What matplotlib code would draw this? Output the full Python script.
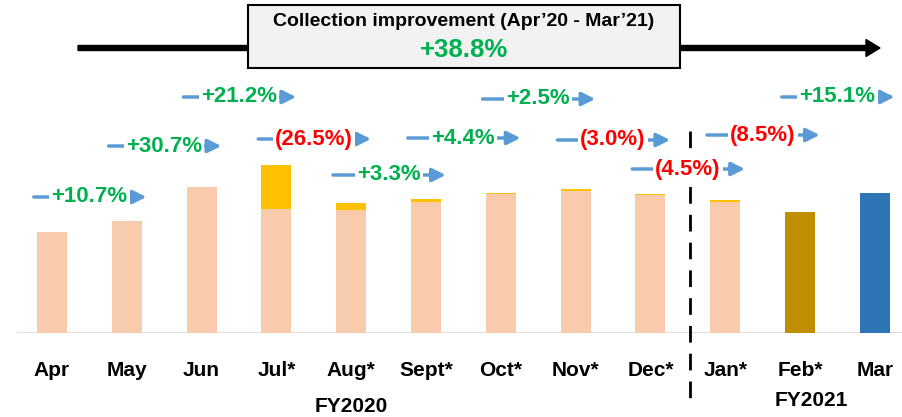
import numpy as np
import matplotlib.pyplot as plt
from matplotlib.patches import Rectangle, FancyArrow

plt.rcParams['font.family'] = ['Liberation Sans', 'DejaVu Sans']
plt.rcParams['font.weight'] = 'bold'

months = ['Apr', 'May', 'Jun', 'Jul*', 'Aug*', 'Sept*', 'Oct*', 'Nov*', 'Dec*', 'Jan*', 'Feb*', 'Mar']
base = [101, 112, 146, 124, 123, 131, 139, 142, 138, 131, 121, 140]
extra = [0, 0, 0, 44, 7, 3, 1.5, 2, 1.5, 2, 0, 0]
changes = ['+10.7%', '+30.7%', '+21.2%', '(26.5%)', '+3.3%', '+4.4%', '+2.5%', '(3.0%)', '(4.5%)', '(8.5%)', '+15.1%']
total_change = '+38.8%'

# layout for the change labels (height above baseline, px)
label_y = [136, 187, 236, 194, 158, 195, 234, 193, 164, 198, 236]

GREEN = '#00B050'
RED = '#FF0000'
BLUE = '#5B9BD5'

fig = plt.figure(figsize=(9.02, 4.17), dpi=100)
ax = fig.add_axes([0, 84 / 417, 1, 333 / 417])
x = np.arange(len(months))
ax.set_xlim(-52 / 74.8, (902 - 52) / 74.8)
ax.set_ylim(0, 333)

base_colors = ['#F8CBAD'] * 10 + ['#BF8F00', '#2E75B6']
ax.bar(x, base, width=0.4, color=base_colors, zorder=2)
ax.bar(x, extra, bottom=base, width=0.4, color='#FFC000', zorder=2)

for s in ax.spines.values():
    s.set_visible(False)
ax.axhline(0, xmin=18 / 902, xmax=1, color='#D9D9D9', lw=2, zorder=1)
ax.set_yticks([])
ax.set_xticks(x)
ax.set_xticklabels(months, fontsize=15, fontweight='bold')
ax.tick_params(axis='x', length=0, pad=20)

# month-on-month change labels with arrows
for i, (lab, yy) in enumerate(zip(changes, label_y)):
    xc = i + 0.5
    ax.annotate('', xy=(xc + 0.8, yy), xytext=(xc - 0.78, yy),
                arrowprops=dict(arrowstyle='-|>', color=BLUE, lw=2.5, mutation_scale=20),
                annotation_clip=False)
    col = RED if lab.startswith('(') else GREEN
    ax.text(xc, yy, lab, ha='center', va='center', fontsize=16, fontweight='bold', color=col,
            bbox=dict(boxstyle='square,pad=0.1', fc='white', ec='none'), zorder=5)

# fiscal year divider
ax.plot([8.53, 8.53], [202, -72], ls=(0, (6, 4)), color='black', lw=2, clip_on=False)
ax.text(4.0, -74, 'FY2020', ha='center', va='center', fontsize=15, fontweight='bold')
ax.text(10.15, -67, 'FY2021', ha='center', va='center', fontsize=15, fontweight='bold')

# overall improvement banner
fig.patches.append(FancyArrow(
    78 / 902, 1 - 48 / 417, 802 / 902, 0, width=5 / 417, head_width=17 / 417,
    head_length=14 / 902, length_includes_head=True, color='black', transform=fig.transFigure))
fig.patches.append(Rectangle((248 / 902, 1 - 68 / 417), 432 / 902, 63 / 417,
                             transform=fig.transFigure, fc='#F2F2F2', ec='black', lw=1.5, zorder=3))
fig.text(464 / 902, 1 - 22 / 417, 'Collection improvement (Apr\u201920 - Mar\u201921)',
         ha='center', va='center', fontsize=14, fontweight='bold', color='black', zorder=4)
fig.text(464 / 902, 1 - 50 / 417, total_change, ha='center', va='center',
         fontsize=18.5, fontweight='bold', color=GREEN, zorder=4)

fig.savefig('out.png', dpi=100)
